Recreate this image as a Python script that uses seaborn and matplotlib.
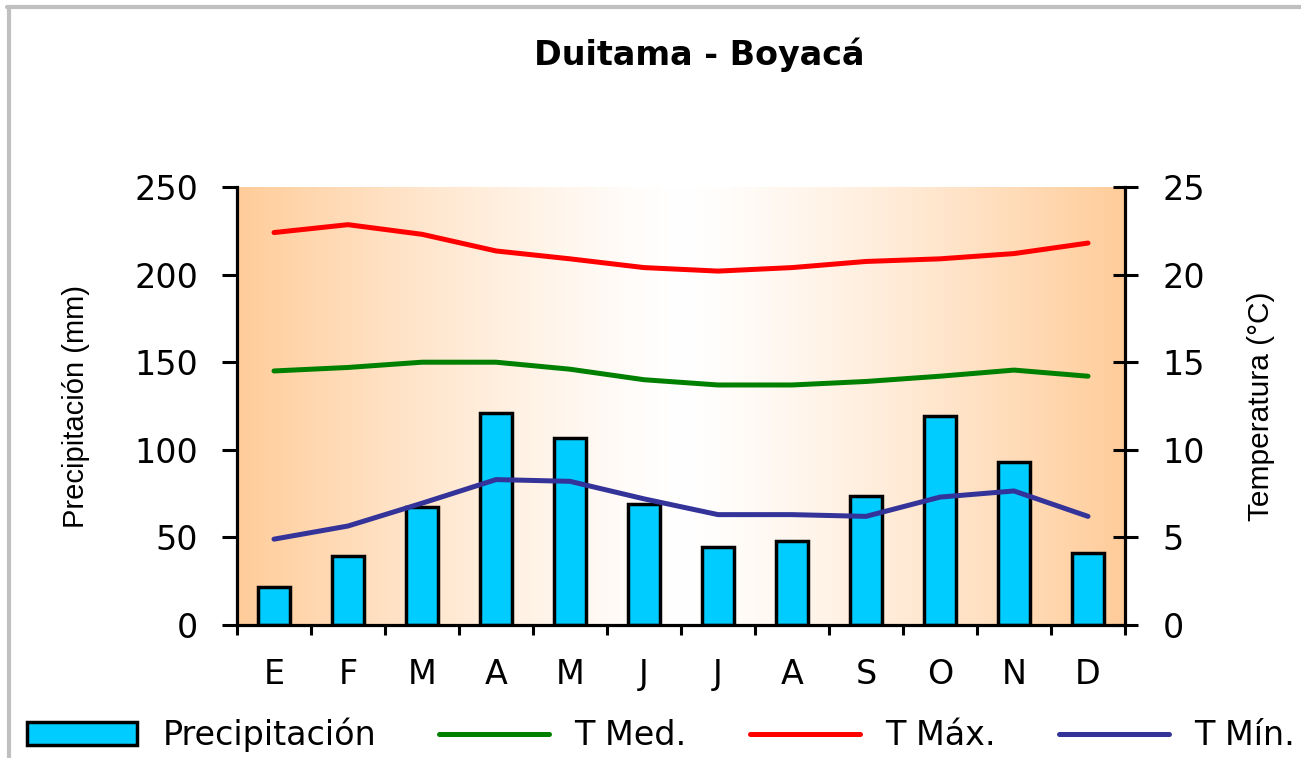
import numpy as np
import pandas as pd
import matplotlib
matplotlib.use("Agg")
import matplotlib.pyplot as plt
import seaborn as sns
from matplotlib.patches import Patch
from matplotlib.lines import Line2D
from matplotlib.colors import to_rgb

# ---------------- data ----------------
meses = ["E", "F", "M", "A", "M", "J", "J", "A", "S", "O", "N", "D"]
precipitacion = [21.5, 39.4, 67.2, 121.2, 106.6, 68.9, 44.3, 47.9, 73.8, 119.5, 93.2, 40.9]
t_med = [14.5, 14.7, 15.0, 15.0, 14.6, 14.0, 13.7, 13.7, 13.9, 14.2, 14.55, 14.2]
t_max = [22.4, 22.85, 22.3, 21.35, 20.9, 20.4, 20.2, 20.4, 20.75, 20.9, 21.2, 21.8]
t_min = [4.9, 5.65, 6.95, 8.3, 8.2, 7.2, 6.3, 6.3, 6.2, 7.3, 7.65, 6.2]
prec_ticks = [0, 50, 100, 150, 200, 250]
temp_ticks = [0, 5, 10, 15, 20, 25]

titulo = "Duitama - Boyacá"
ylabel_izq = "Precipitación (mm)"
ylabel_der = "Temperatura (°C)"
leyenda = ["Precipitación", "T Med.", "T Máx.", "T Mín."]

# ---------------- style ----------------
sns.set_theme(style="white")
plt.rcParams['font.family'] = ['DejaVu Sans']
plt.rcParams['text.color'] = 'black'
plt.rcParams['axes.labelcolor'] = 'black'
plt.rcParams['xtick.color'] = 'black'
plt.rcParams['ytick.color'] = 'black'

W, H = 1301, 758
fig = plt.figure(figsize=(W / 100, H / 100), dpi=100)
fig.patch.set_facecolor("white")

ax = fig.add_axes([237 / W, 1 - 625 / H, 888 / W, 438 / H])

# background gradient (orange edges, white centre)
orange = np.array(to_rgb("#FFCC99"))
white = np.ones(3)
t = np.linspace(0, 1, 600)
w = np.abs(2 * t - 1) ** 1.3
grad = (white[None, :] * (1 - w[:, None]) + orange[None, :] * w[:, None])[None, :, :]
ax.imshow(grad, extent=[0, 1, 0, 1], transform=ax.transAxes, aspect="auto", zorder=0)
ax.patch.set_visible(False)

# bars
df = pd.DataFrame({"mes": list(range(12)), "prec": precipitacion})
sns.barplot(data=df, x="mes", y="prec", ax=ax, color="#00CCFF", saturation=1,
            edgecolor="black", linewidth=2.5, width=0.43, zorder=2)

# lines on the twin axis
ax2 = ax.twinx()
dft = pd.DataFrame({"mes": list(range(12)), "med": t_med, "max": t_max, "min": t_min})
sns.lineplot(data=dft, x="mes", y="med", ax=ax2, color="#008000", linewidth=3.6)
sns.lineplot(data=dft, x="mes", y="max", ax=ax2, color="#FF0000", linewidth=3.6)
sns.lineplot(data=dft, x="mes", y="min", ax=ax2, color="#333399", linewidth=3.6)

ax.set_xlim(-0.5, 11.5)
ax.set_ylim(0, 250)
ax2.set_ylim(0, 25)

# spines
for a in (ax, ax2):
    for s in a.spines.values():
        s.set_visible(False)
ax.spines["left"].set_visible(True)
ax.spines["bottom"].set_visible(True)
ax2.spines["right"].set_visible(True)
for s in (ax.spines["left"], ax.spines["bottom"], ax2.spines["right"]):
    s.set_color("black")
    s.set_linewidth(2.3)
    s.set_zorder(5)

# ticks
ax.set_yticks(prec_ticks)
ax.tick_params(axis="y", which="major", direction="out", length=11, width=2.2,
               color="black", labelcolor="black", labelsize=24, pad=17, left=True)
ax.set_xticks(range(12))
ax.set_xticklabels(meses)
ax.set_xticks(np.arange(-0.5, 12, 1.0), minor=True)
ax.tick_params(axis="x", which="major", length=0, labelsize=24, pad=24,
               labelcolor="black")
ax.tick_params(axis="x", which="minor", direction="out", length=7.5, width=2.2,
               color="black", bottom=True)

ax2.set_yticks(temp_ticks)
ax2.tick_params(axis="y", which="major", direction="inout", length=18, width=2.2,
                color="black", labelcolor="black", labelsize=24, pad=18, right=True)

ax.set_xlabel("")
ax.set_ylabel(ylabel_izq, fontsize=21, family=["Liberation Sans", "DejaVu Sans"],
              color="black")
ax.yaxis.set_label_coords(-0.166, 0.5)
ax2.set_ylabel(ylabel_der, fontsize=21.5, rotation=90,
               family=["Liberation Sans", "DejaVu Sans"], color="black")
ax2.yaxis.set_label_coords(1.137, 0.5)

# title
fig.text(699 / W, 1 - 55 / H, titulo, ha="center", va="center",
         fontsize=24, fontweight="bold", color="black")

# legend
handles = [
    Patch(facecolor="#00CCFF", edgecolor="black", linewidth=2.5),
    Line2D([], [], color="#008000", linewidth=3.6),
    Line2D([], [], color="#FF0000", linewidth=3.6),
    Line2D([], [], color="#333399", linewidth=3.6),
]
leg = fig.legend(handles, leyenda, loc="center", bbox_to_anchor=(661 / W, 1 - 735 / H),
                 ncol=4, frameon=False, fontsize=24, handlelength=3.3, handleheight=0.66,
                 handletextpad=0.75, columnspacing=1.9, borderaxespad=0, borderpad=0)
for txt in leg.get_texts():
    txt.set_color("black")

# figure frame (left and top, grey)
fig.add_artist(Line2D([9 / W, 9 / W], [0, 1 - 7 / H], transform=fig.transFigure,
                      color="#C0C0C0", linewidth=3))
fig.add_artist(Line2D([7 / W, 1], [1 - 7 / H, 1 - 7 / H], transform=fig.transFigure,
                      color="#C0C0C0", linewidth=3))

fig.savefig("out.png", dpi=100)
